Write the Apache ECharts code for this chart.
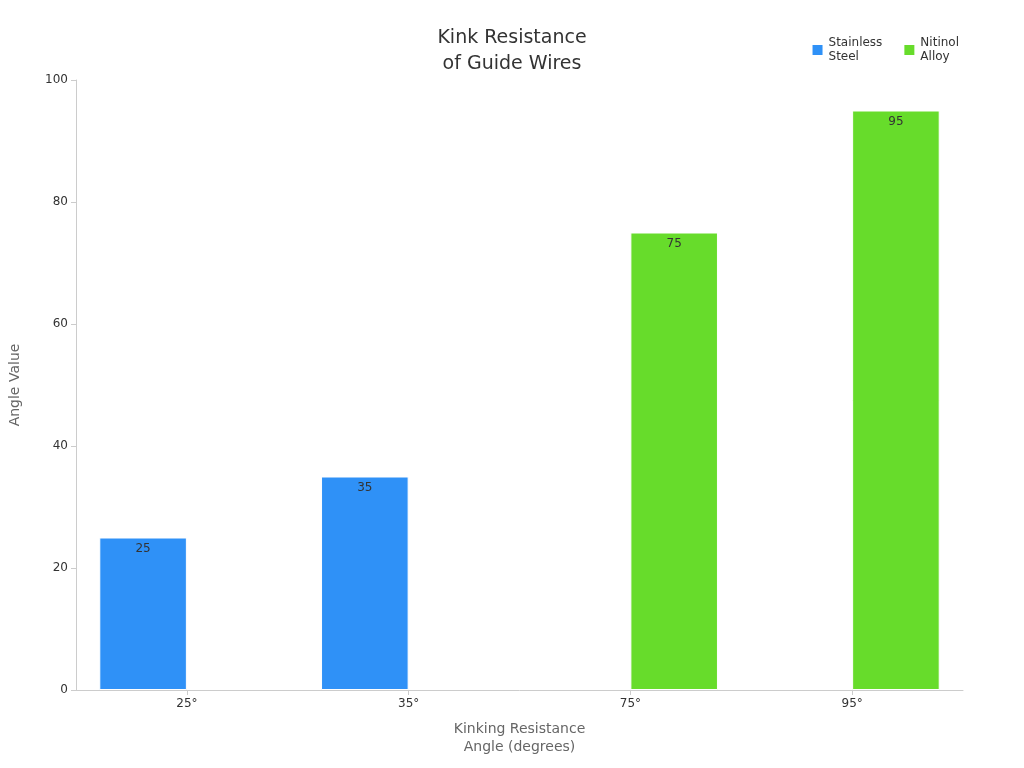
<!DOCTYPE html>
<html><head><meta charset="utf-8">
<script src="https://cdn.jsdelivr.net/npm/echarts@6/dist/echarts.min.js"></script>
<style>html,body{margin:0;padding:0;background:#fff}#c{width:1024px;height:768px}</style>
</head><body><div id="c"></div>
<script>
const categories = ['25°', '35°', '75°', '95°'];
const stainless = [25, 35, null, null];
const nitinol = [null, null, 75, 95];
const yTicks = [0, 20, 40, 60, 80, 100];
const chart = echarts.init(document.getElementById('c'));
const lbl = {show: true, position: 'insideTop', color: '#333', fontSize: 12, fontFamily: 'DejaVu Sans'};
chart.setOption({
  animation: false,
  textStyle: {fontFamily: 'DejaVu Sans'},
  title: {text: 'Kink Resistance\nof Guide Wires', left: 'center', top: 20,
    textStyle: {fontSize: 19, fontWeight: 'normal', color: '#333', lineHeight: 26, fontFamily: 'DejaVu Sans'}},
  legend: {right: 60, top: 31, itemWidth: 12, itemHeight: 12, icon: 'rect', itemGap: 20,
    textStyle: {fontSize: 12, color: '#333', lineHeight: 14},
    data: [{name: 'Stainless\nSteel'}, {name: 'Nitinol\nAlloy'}]},
  grid: {left: 68, right: 61, top: 80, bottom: 78},
  xAxis: {type: 'category', data: categories, name: 'Kinking Resistance\nAngle (degrees)',
    nameLocation: 'middle', nameGap: 30, nameTextStyle: {fontSize: 14, color: '#666', lineHeight: 18},
    axisLine: {lineStyle: {color: '#ccc'}}, axisTick: {show: true, alignWithLabel: true, lineStyle: {color: '#ccc'}},
    axisLabel: {color: '#333', fontSize: 12}},
  yAxis: {type: 'value', min: 0, max: 100, interval: 20, name: 'Angle Value', nameLocation: 'middle', nameGap: 54,
    nameTextStyle: {fontSize: 14, color: '#666'},
    axisLine: {show: true, lineStyle: {color: '#ccc'}}, axisTick: {show: true, lineStyle: {color: '#ccc'}},
    axisLabel: {color: '#333', fontSize: 12}, splitLine: {show: false}},
  series: [
    {name: 'Stainless\nSteel', type: 'bar', data: stainless, barGap: '0%', barCategoryGap: '21%',
     itemStyle: {color: '#2f91f7', borderColor: '#fff', borderWidth: 1}, label: lbl},
    {name: 'Nitinol\nAlloy', type: 'bar', data: nitinol,
     itemStyle: {color: '#67dc2b', borderColor: '#fff', borderWidth: 1}, label: lbl}
  ]
});
</script></body></html>
